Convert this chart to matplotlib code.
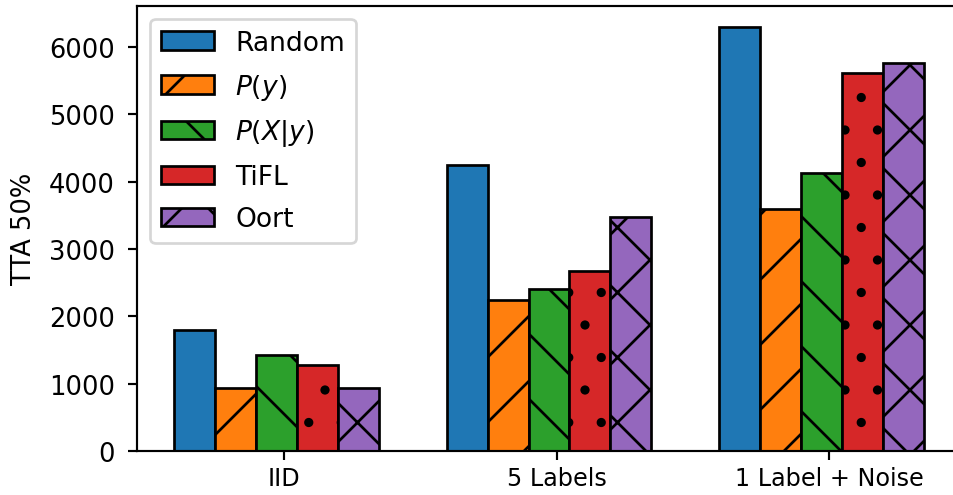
import numpy as np
import matplotlib
matplotlib.use("Agg")
import matplotlib.pyplot as plt

# data
groups = ["IID", "5 Labels", "1 Label + Noise"]
methods = ["Random", "$P(y)$", "$P(X|y)$", "TiFL", "Oort"]
random_vals = [1800, 4250, 6300]
py_vals = [940, 2250, 3600]
pxy_vals = [1420, 2400, 4130]
tifl_vals = [1280, 2680, 5620]
oort_vals = [940, 3480, 5760]

series = [random_vals, py_vals, pxy_vals, tifl_vals, oort_vals]
hatches = ["", "/", "\\", ".", "x"]
colors = ["tab:blue", "tab:orange", "tab:green", "tab:red", "tab:purple"]

DPI = 195
plt.rcParams["font.size"] = 9.5
plt.rcParams["ytick.major.pad"] = 4.6
plt.rcParams["xtick.labelsize"] = 8.8
plt.rcParams["xtick.major.pad"] = 2.2
plt.rcParams["legend.fontsize"] = 9.8
plt.rcParams["legend.labelspacing"] = 0.6

fig = plt.figure(figsize=(953 / DPI, 496 / DPI), dpi=DPI)
ax = fig.add_axes([0.1438, 0.0887, 0.8646, 0.8978])

x = np.arange(len(groups))
w = 0.15
for i, vals in enumerate(series):
    ax.bar(x + (i - 2) * w - 0.0275, vals, w, color=colors[i], edgecolor="black",
           hatch=hatches[i], label=methods[i])

ax.set_xticks(x)
ax.set_xticklabels(groups)
ax.set_ylabel("TTA 50%", labelpad=4.5)
ax.legend(loc="upper left")

fig.savefig("out.png", dpi=DPI)
